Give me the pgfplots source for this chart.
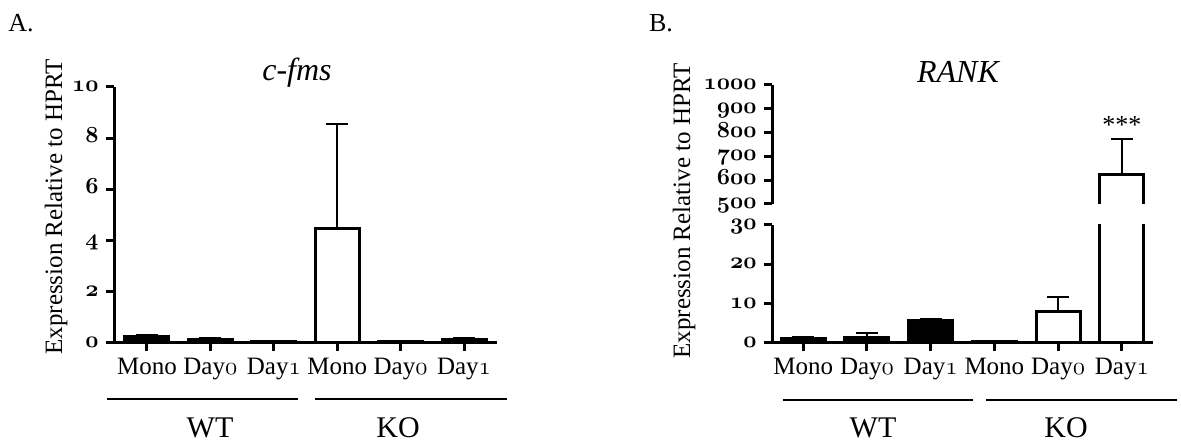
\documentclass[border=0pt]{standalone}
\usepackage{fix-cm}
\usepackage{fontspec}
\setmainfont{Liberation Serif}
\usepackage{pgfplots}
\pgfplotsset{compat=1.18}
% old-style figures, as in the source figure
\newcommand\os[1]{{\usefont{OML}{cmm}{b}{it}#1}}
\newcommand\osr[1]{{\usefont{OML}{cmm}{m}{it}#1}}
\newcommand\fs[1]{\fontsize{#1}{#1}\selectfont}
\pgfplotsset{
  bio/.style={
    scale only axis, anchor=south west,
    axis x line=bottom, axis y line=left,
    axis line style={-, line width=1.5pt},
    tick align=outside, major tick length=4pt,
    every tick/.style={black, line width=1.5pt},
    xtick={0,...,5},
    xticklabels={Mono,Day\osr{0},Day\osr{1},Mono,Day\osr{0},Day\osr{1}},
    xticklabel style={font=\fs{12.5}},
    yticklabel style={font=\fs{11.5}, inner sep=0.5pt, xshift=-3pt,
      text height=0.45em, text depth=0pt},
    ybar, bar width=22pt,
  },
  wt/.style={fill=black, draw=black, line width=1.5pt, bar shift=0pt},
  ko/.style={fill=white, draw=black, line width=1.5pt, bar shift=0pt},
  eb/.style={error bars/.cd, y dir=plus, y explicit,
    error bar style={line width=1pt, black},
    error mark options={rotate=90, mark size=5.5pt, line width=1pt, black}},
}
\begin{document}
\begin{tikzpicture}
\useasboundingbox (0,0) rectangle (590.5pt,221.5pt);

% panel A
\begin{axis}[bio, at={(57pt,50pt)}, width=191.5pt, height=128pt,
  xmin=-0.52, xmax=5.52, ymin=0, ymax=10,
  ytick={0,2,4,6,8,10},
  yticklabels={\os{0},\os{2},\os{4},\os{6},\os{8},\os{10}}]
\addplot[wt, eb] coordinates {(0,0.25) +- (0,0.07) (1,0.15) +- (0,0.05) (2,0.07) +- (0,0.02)};
\addplot[ko, eb] coordinates {(3,4.47) +- (0,4.1) (4,0.05) +- (0,0.02) (5,0.15) +- (0,0.05)};
\end{axis}

% panel B, lower segment
\begin{axis}[bio, at={(386pt,50pt)}, width=190.5pt, height=59pt,
  xmin=-0.49, xmax=5.49, ymin=0, ymax=30,
  ytick={0,10,20,30},
  yticklabels={\os{0},\os{10},\os{20},\os{30}}]
\addplot[wt, eb] coordinates {(0,1.2) +- (0,0.3) (1,1.3) +- (0,1.3) (2,5.8) +- (0,0.4)};
\addplot[ko, eb] coordinates {(3,0.3) +- (0,0.1) (4,8.0) +- (0,3.7)};
\addplot[ko] coordinates {(5,622)};
\end{axis}

% panel B, upper segment (bar is open at the break)
\begin{axis}[bio, at={(386pt,119.5pt)}, width=190.5pt, height=59.5pt,
  xmin=-0.49, xmax=5.49, ymin=500, ymax=1000,
  axis x line=none, xtick=\empty,
  ytick={500,600,700,800,900,1000},
  yticklabels={\os{500},\os{600},\os{700},\os{800},\os{900},\os{1000}},
  clip mode=individual]
\addplot[ko, draw=none, eb] coordinates {(5,622) +- (0,151)};
\addplot[sharp plot, black, line width=1.5pt] coordinates {(4.655,500) (4.655,622) (5.345,622) (5.345,500)};
\node[font=\fs{13}] at (axis cs:5,830) {***};
\end{axis}

\begin{scope}[x=0.5pt, y=0.5pt]
\node[font=\fs{13}] at (21,420) {A.};
\node[font=\fs{13}] at (661,420) {B.};
\node[font=\fs{16}\itshape] at (297,370) {c-fms};
\node[font=\fs{16}\itshape] at (958,371) {RANK};
\node[font=\fs{12.5}, rotate=90] at (56,236) {Expression Relative to HPRT};
\node[font=\fs{12.5}, rotate=90] at (684,232) {Expression Relative to HPRT};
\draw[line width=1pt] (107,44) -- (298,44) (315,44) -- (507,44);
\draw[line width=1pt] (783,43) -- (973,43) (986,43) -- (1177,43);
\node[font=\fs{15}] at (210,15) {WT};
\node[font=\fs{15}] at (398,15) {KO};
\node[font=\fs{15}] at (873,15) {WT};
\node[font=\fs{15}] at (1066,15) {KO};
\end{scope}
\end{tikzpicture}
\end{document}
